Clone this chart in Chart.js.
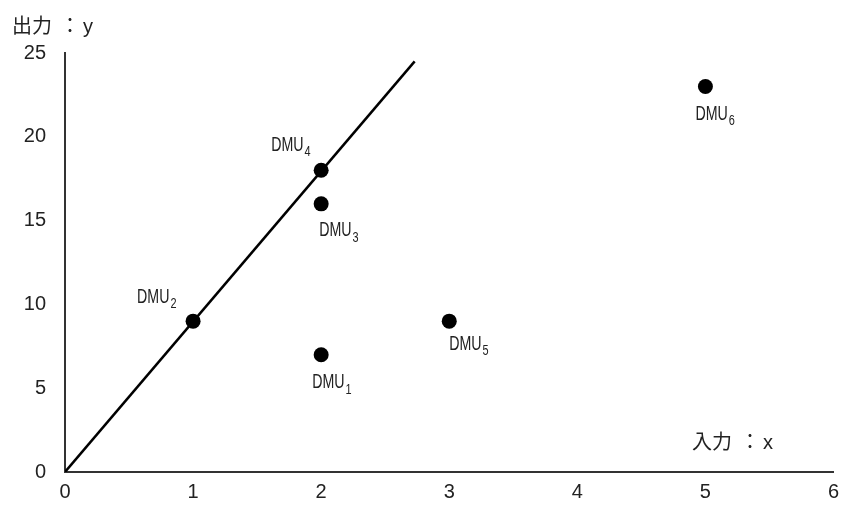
<!DOCTYPE html>
<html><head><meta charset="utf-8">
<script src="https://cdn.jsdelivr.net/npm/chart.js@4"></script>
<style>html,body{margin:0;padding:0;background:#fff}#wrap{width:841px;height:508px}</style>
</head><body><div id="wrap"><canvas id="c"></canvas></div>
<script>
const dmuNames = ['1','2','3','4','5','6'];
const inputX = [2, 1, 2, 2, 3, 5];
const outputY = [7, 9, 16, 18, 9, 23];
const frontierX = [0, 2.73];
const frontierY = [0, 24.5];
const xTicks = [0,1,2,3,4,5,6];
const yTicks = [0,5,10,15,20,25];
// label placement relative to point (dx, dy in px)
const labelOffsets = [[-9,28],[-56,-24],[-2,27],[-50,-25],[0,23],[-10,28]];

const FONT = "'Liberation Sans','DejaVu Sans',sans-serif";
const CJK = "'Noto Sans CJK JP','Noto Sans CJK SC',sans-serif";
const pts = inputX.map((x,i)=>({x, y: outputY[i]}));
const line = frontierX.map((x,i)=>({x, y: frontierY[i]}));

function narrowText(ctx, text, x, y, size, sx){
  ctx.save();
  ctx.translate(x, y);
  ctx.scale(sx, 1);
  ctx.font = size + "px " + FONT;
  ctx.fillText(text, 0, 0);
  const w = ctx.measureText(text).width * sx;
  ctx.restore();
  return w;
}

const labelPlugin = {
  id:'labels',
  afterDatasetsDraw(chart){
    const ctx = chart.ctx, xs = chart.scales.x, ys = chart.scales.y;
    ctx.save();
    ctx.fillStyle = '#222';
    ctx.textBaseline = 'middle';
    ctx.textAlign = 'left';
    pts.forEach((p,i)=>{
      const px = xs.getPixelForValue(p.x), py = ys.getPixelForValue(p.y);
      const [dx,dy] = labelOffsets[i];
      const w = narrowText(ctx, 'DMU', px+dx, py+dy, 20, 0.71);
      narrowText(ctx, dmuNames[i], px+dx+w+1, py+dy+7, 14, 0.78);
    });
    ctx.font = "20px " + CJK;
    ctx.textAlign = 'left';
    ctx.fillText('出力', 12, 25);
    ctx.textAlign = 'center';
    ctx.fillText('：', 70, 25);
    ctx.textAlign = 'left';
    ctx.font = "20px " + FONT;
    ctx.fillText('y', 83, 27);
    ctx.font = "20px " + CJK;
    ctx.fillText('入力', 692, 441);
    ctx.textAlign = 'center';
    ctx.fillText('：', 750, 441);
    ctx.textAlign = 'left';
    ctx.font = "20px " + FONT;
    ctx.fillText('x', 763, 443);
    ctx.restore();
  }
};

new Chart(document.getElementById('c'), {
  type:'scatter',
  data:{datasets:[
    {data: pts, showLine:false, pointRadius:7.5, pointHoverRadius:7.5, backgroundColor:'#000', borderColor:'#000', borderWidth:0, order:1},
    {data: line, showLine:true, pointRadius:0, borderColor:'#000', borderWidth:2.5, order:2}
  ]},
  options:{
    responsive:true, maintainAspectRatio:false, animation:false,
    layout:{padding:{top:53,right:2,left:0,bottom:0}},
    plugins:{legend:{display:false},tooltip:{enabled:false}},
    scales:{
      x:{type:'linear',min:0,max:6,
        afterBuildTicks(s){s.ticks = xTicks.map(v=>({value:v}));},
        afterFit(s){s.height = 36; s.paddingRight = 6; s.paddingLeft = 0;},
        grid:{display:false,drawTicks:false},
        border:{display:true,color:'#333',width:2},
        ticks:{color:'#222',padding:8,font:{size:20,family:FONT}}},
      y:{type:'linear',min:0,max:25,
        afterBuildTicks(s){s.ticks = yTicks.map(v=>({value:v}));},
        afterFit(s){s.width = 65;},
        grid:{display:false,drawTicks:false},
        border:{display:true,color:'#333',width:2},
        ticks:{color:'#222',padding:19,font:{size:20,family:FONT}}}
    }
  },
  plugins:[labelPlugin]
});
</script></body></html>
